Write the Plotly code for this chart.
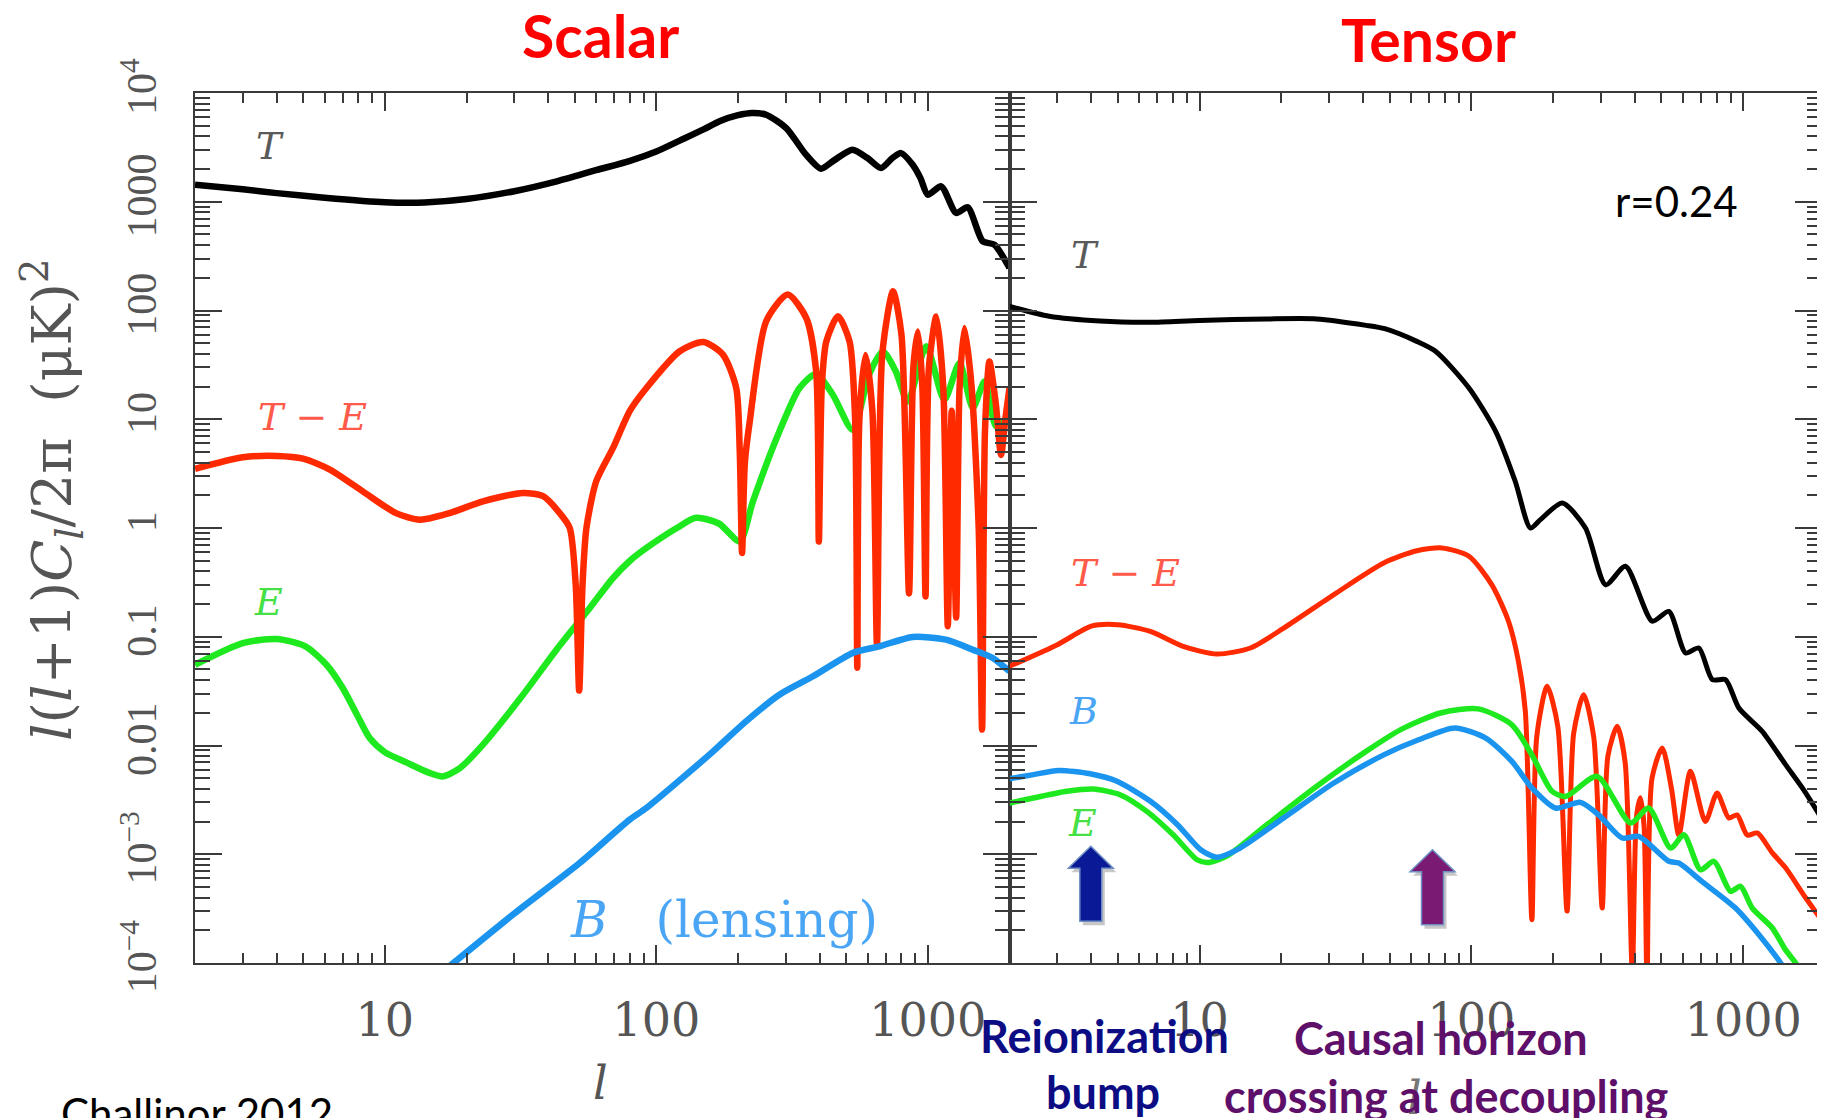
import numpy as np
import plotly.graph_objects as go

# ---------------- data ----------------
# Scalar panel
l_sT = [2, 3, 4, 6, 10, 14, 20, 30, 43, 60, 80, 100, 122, 150, 171, 200, 225, 254, 301, 356, 404, 450,
        528, 600, 673, 740, 797, 880, 940, 1000, 1120, 1272, 1403, 1593, 1758, 2000]
sT = [1430, 1300, 1200, 1090, 990, 985, 1060, 1250, 1540, 1950, 2380, 2900, 3650, 4650, 5500, 6250, 6550,
      6310, 4760, 2710, 2014, 2390, 3013, 2520, 2040, 2520, 2800, 2190, 1650, 1160, 1387, 789, 890, 433, 403, 246]

l_sTE = [2, 3, 4, 5, 6.3, 8.3, 11, 13.5, 17.3, 23, 32.3, 38.3, 44.1, 48, 50.5, 52, 53.5, 55.3, 60.1, 69.3,
         80, 92, 122, 149, 176, 197, 203, 207, 212, 221, 254, 305, 357, 388, 397, 407, 423, 467, 515, 540,
         550, 560, 590, 625, 650, 680, 745, 800, 853, 885, 920, 955, 981, 1010, 1075, 1140, 1185, 1225,
         1272, 1310, 1365, 1450, 1540, 1585, 1625, 1687, 1780, 1862, 1930, 2000]
sTE = [3.5, 4.47, 4.6, 4.34, 3.43, 2.17, 1.37, 1.19, 1.37, 1.76, 2.10, 1.96, 1.37, 1.0, 0.3, 0.032, 0.3,
       1.0, 2.69, 5.45, 12, 19.4, 42.2, 51.3, 39.3, 19.4, 5, 0.59, 4, 9.6, 79.6, 140, 85, 27.6, 0.75, 20,
       52, 88.5, 52, 10, 0.052, 10, 39, 12, 0.085, 40, 150, 60, 0.25, 30, 64, 20, 0.235, 30, 88, 20, 0.125,
       12, 0.15, 20, 69, 20, 1.0, 0.014, 8, 34, 14, 4.7, 10, 19.4]

l_sE = [2, 3, 4, 5.1, 6.1, 7, 7.9, 8.8, 10, 12, 14.6, 16.4, 18.9, 23, 32.3, 42.9, 56.9, 69.3, 80, 92,
        119, 140, 170, 203, 227, 284, 337, 388, 447, 529, 609, 683, 760, 844, 987, 1151, 1309, 1465,
        1620, 1787, 2000]
sE = [0.0553, 0.0875, 0.0953, 0.0817, 0.0553, 0.0338, 0.0192, 0.0117, 0.0087, 0.0070, 0.0056, 0.0052,
      0.0062, 0.0102, 0.0293, 0.076, 0.184, 0.347, 0.5, 0.655, 1.0, 1.24, 1.1, 0.755, 1.76, 7.7, 19.4,
      26.1, 16.8, 8.0, 26, 42, 28, 14.6, 46.9, 15.1, 32.9, 12.7, 22.3, 8.6, 10.6]

l_sB = [17, 17.9, 30, 52.2, 79.8, 91.9, 162, 214, 284, 378, 529, 664, 880, 1167, 1465, 1735, 2000]
sB = [9.0e-5, 1.0e-4, 2.85e-4, 8.3e-4, 0.00208, 0.00266, 0.00883, 0.01667, 0.0293, 0.0433, 0.071,
      0.0817, 0.0996, 0.094, 0.076, 0.0638, 0.048]

# Tensor panel (r = 0.24)
l_tT = [2, 2.8, 4.3, 6.6, 10, 17.7, 27, 41, 48, 63, 74, 98, 123, 145, 165, 180, 216, 263, 312, 369, 463,
        533, 614, 687, 770, 861, 964, 1175, 1432, 1651, 2000]
tT = [109, 88.5, 80, 78, 81, 83.6, 83.6, 73, 68, 52, 42, 19.4, 7.7, 2.69, 1.0, 1.2, 1.7, 1.0, 0.30, 0.445,
      0.139, 0.171, 0.071, 0.0788, 0.0403, 0.0403, 0.0221, 0.0135, 0.00667, 0.00407, 0.0019]

l_tTE = [2, 3, 4, 5, 6.6, 8.7, 11.6, 15.4, 20.4, 31.2, 47.6, 63, 78, 98, 119, 137, 149, 158, 167, 174,
         190, 208, 225, 238, 259, 282, 303, 318, 344, 368, 391, 405, 419, 432, 443, 462, 504, 545, 580,
         640, 726, 802, 885, 950, 1035, 1127, 1280, 1432, 1695, 2000]
tTE = [0.0535, 0.0846, 0.125, 0.129, 0.112, 0.0817, 0.0693, 0.0788, 0.120, 0.244, 0.477, 0.618, 0.655,
       0.55, 0.30, 0.139, 0.0594, 0.0206, 2.5e-4, 0.012, 0.035, 0.015, 3e-4, 0.013, 0.0293, 0.012, 3.2e-4,
       0.008, 0.015, 0.007, 8e-5, 0.0022, 0.0033, 0.0018, 6e-5, 0.005, 0.0095, 0.004, 0.0015, 0.0058,
       0.0020, 0.00366, 0.00216, 0.0023, 0.0015, 0.00157, 0.00103, 7.5e-4, 4.0e-4, 2.25e-4]

l_tE = [2, 2.45, 3.25, 4.07, 5.1, 6.4, 8, 9.8, 10.7, 12.6, 17.7, 27, 41, 55, 77, 106, 141, 167, 198, 222,
        290, 385, 449, 541, 605, 697, 780, 899, 978, 1080, 1280, 1432, 1560, 1620]
tE = [0.00296, 0.00329, 0.00379, 0.00398, 0.00353, 0.00248, 0.00151, 8.9e-4, 8.4e-4, 9.6e-4, 0.00187,
      0.00422, 0.00883, 0.0140, 0.0199, 0.0217, 0.0155, 0.0082, 0.0038, 0.0034, 0.0052, 0.00194, 0.00266,
      0.00114, 0.00151, 7.2e-4, 8.6e-4, 4.56e-4, 5.07e-4, 3.2e-4, 2.1e-4, 1.32e-4, 1.0e-4, 8.5e-5]

l_tB = [2, 2.45, 3.03, 3.96, 4.97, 6.6, 8.3, 10.1, 11.6, 14.1, 20.4, 31.2, 47.6, 64, 87, 113, 141, 167,
        204, 252, 294, 359, 413, 533, 580, 706, 937, 1143, 1374, 1420]
tB = [0.00495, 0.0054, 0.0059, 0.0055, 0.00469, 0.00307, 0.00187, 0.0011, 9.4e-4, 0.00114, 0.00216,
      0.00452, 0.0082, 0.0113, 0.0145, 0.0117, 0.00714, 0.00407, 0.00266, 0.0030, 0.0023, 0.00141,
      0.00146, 8.6e-4, 8.3e-4, 5.6e-4, 3.2e-4, 1.82e-4, 1.0e-4, 8.8e-5]

y_tickvals = [1e-4, 1e-3, 0.01, 0.1, 1, 10, 100, 1000, 1e4]
y_ticktext = ["10<sup>\u22124</sup>", "10<sup>\u22123</sup>", "0.01", "0.1", "1", "10", "100", "1000",
              "10<sup>4</sup>"]
x_tickvals = [10, 100, 1000]
x_ticktext = ["10", "100", "1000"]

# ---------------- layout geometry ----------------
# target plot box in page pixels; the page body adds an 8px margin, so the figure is made smaller
OFF = 8
PAGE_W, PAGE_H = 1825, 1118
BOX_L, BOX_R, BOX_T, BOX_B = 195, 1822, 93, 963
W, H = PAGE_W - OFF, PAGE_H - OFF
ML, MT = BOX_L - OFF, BOX_T - OFF
MR, MB = W - (BOX_R - OFF), H - (BOX_B - OFF)
PW, PH = BOX_R - BOX_L, BOX_B - BOX_T


def paper(X, Y):
    return (X - BOX_L) / PW, (BOX_B - Y) / PH


BLACK, RED, GREEN, BLUE = "#000000", "#ff2a00", "#1ee81e", "#1a94ee"
LW = 6.5

fig = go.Figure()


def add(xs, ys, color, xa, ya, width=LW):
    fig.add_trace(go.Scatter(x=xs, y=ys, mode="lines", xaxis=xa, yaxis=ya, showlegend=False,
                             line=dict(color=color, width=width, shape="spline", smoothing=0.7),
                             hoverinfo="skip"))


add(l_sT, sT, BLACK, "x", "y")
add(l_sE, sE, GREEN, "x", "y")
add(l_sTE, sTE, RED, "x", "y")
add(l_sB, sB, BLUE, "x", "y")

add(l_tT, tT, BLACK, "x2", "y2", width=5)
add(l_tTE, tTE, RED, "x2", "y2", width=5)
add(l_tE, tE, GREEN, "x2", "y2", width=5.5)
add(l_tB, tB, BLUE, "x2", "y2", width=5.5)

AXC = "#3a3a3a"
split = (1009.5 - BOX_L) / PW

xcommon = dict(type="log", showgrid=False, zeroline=False, showline=True, linecolor=AXC, linewidth=2,
               mirror="allticks", ticks="inside", ticklen=18, tickwidth=1.5, tickcolor=AXC,
               tickvals=x_tickvals, ticktext=x_ticktext,
               tickfont=dict(family="DejaVu Serif", size=46, color="#555555"),
               ticklabelstandoff=16,
               minor=dict(ticks="inside", ticklen=10, tickwidth=1.5, tickcolor=AXC, dtick="D1",
                          showgrid=False))
ycommon = dict(type="log", showgrid=False, zeroline=False, showline=True, linecolor=AXC, linewidth=2,
               mirror="allticks", ticks="inside", ticklen=27, tickwidth=1.5, tickcolor=AXC,
               range=[-4, 4], tickvals=y_tickvals, ticktext=y_ticktext,
               minor=dict(ticks="inside", ticklen=15, tickwidth=1.5, tickcolor=AXC, dtick="D1",
                          showgrid=False))

fig.update_layout(
    width=W, height=H, margin=dict(l=ML, r=MR, t=MT, b=MB, autoexpand=False),
    paper_bgcolor="white", plot_bgcolor="white",
    xaxis=dict(xcommon, domain=[0, split], range=[np.log10(2), np.log10(2000)], anchor="y"),
    xaxis2=dict(xcommon, domain=[split, 1], range=[np.log10(2), 3.29], anchor="y2"),
    yaxis=dict(ycommon, anchor="x", tickangle=-90, ticklabelstandoff=20,
               tickfont=dict(family="Liberation Serif", size=42, color="#555555")),
    yaxis2=dict(ycommon, anchor="x2", showticklabels=False),
)

ann = []


def text(X, Y, s, size, color, family="Lato", angle=0, xanchor="center"):
    px, py = paper(X, Y)
    ann.append(dict(x=px, y=py, xref="paper", yref="paper", text=s, showarrow=False,
                    xanchor=xanchor, yanchor="middle", textangle=angle,
                    font=dict(family=family, size=size, color=color)))


LAB = "DejaVu Serif"
# titles
text(600, 36, "<b>Scalar</b>", 59, "#ff0000")
text(1428, 39, "<b>Tensor</b>", 59, "#ff0000")
text(1676, 201, "r=0.24", 42, "#000000")
# curve labels, scalar
text(270, 146, "<i>T</i>", 38, "#5a5a5a", LAB)
text(312, 417, "<i>T</i> \u2212 <i>E</i>", 38, "#ff5a4a", LAB)
text(268, 602, "<i>E</i>", 38, "#44e044", LAB)
text(724, 920, "<i>B</i>   (lensing)", 50, "#4aa6f5", LAB)
# curve labels, tensor
text(1085, 255, "<i>T</i>", 38, "#5a5a5a", LAB)
text(1125, 573, "<i>T</i> \u2212 <i>E</i>", 38, "#ff5a4a", LAB)
text(1083, 711, "<i>B</i>", 38, "#4aa6f5", LAB)
text(1082, 823, "<i>E</i>", 38, "#44e044", LAB)
# axis titles
text(600, 1083, "<i>l</i>", 46, "#555555", LAB)
text(1414, 1098, "<i>l</i>", 46, "#777777", LAB)
text(52, 500, "<i>l</i>(<i>l</i>+1)<i>C<sub>l</sub></i>/2\u03c0  (\u03bcK)<sup>2</sup>", 55, "#555555",
     LAB, angle=-90)
# bottom notes
text(1104, 1036, "<b>Reionization</b>", 45, "#0c0c84")
text(1103, 1092, "<b>bump</b>", 45, "#0c0c84")
text(1441, 1038, "<b>Causal horizon</b>", 45, "#5e0f6a")
text(1446, 1096, "<b>crossing at decoupling</b>", 45, "#5e0f6a")
text(197, 1113, "Challinor 2012", 42, "#000000")

fig.update_layout(annotations=ann)

# block arrows (pixel-sized shapes anchored in paper space)
arrow_path = "M 0,0 L 22.5,-22 L 11,-22 L 11,-75 L -11,-75 L -11,-22 L -22.5,-22 Z"
shadow_path = "M 3,-4 L 25.5,-26 L 14,-26 L 14,-79 L -8,-79 L -8,-26 L -19.5,-26 Z"
shapes = []
for (X, Y, col) in [(1090.8, 846.3, "#0a1a96"), (1432.5, 849.7, "#7a1a72")]:
    ax_, ay_ = paper(X, Y)
    shapes.append(dict(type="path", xref="paper", yref="paper", xsizemode="pixel", ysizemode="pixel",
                       xanchor=ax_, yanchor=ay_, path=shadow_path,
                       fillcolor="rgba(0,0,0,0.22)", line=dict(width=0)))
    shapes.append(dict(type="path", xref="paper", yref="paper", xsizemode="pixel", ysizemode="pixel",
                       xanchor=ax_, yanchor=ay_, path=arrow_path,
                       fillcolor=col, line=dict(color="#6f8fc4", width=1.5)))
fig.update_layout(shapes=shapes)

fig.write_html("out.html")
